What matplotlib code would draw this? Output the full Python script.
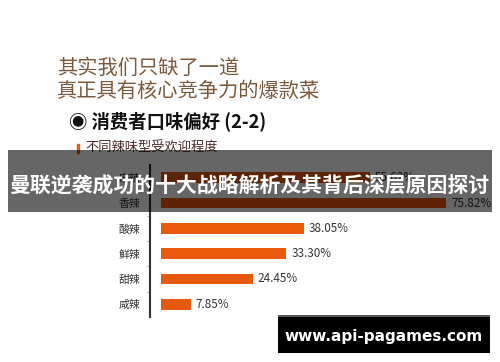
import matplotlib
matplotlib.use('Agg')
import matplotlib.pyplot as plt
from matplotlib.patches import Rectangle

# ---- data ----
categories = ['麻辣', '香辣', '酸辣', '鲜辣', '甜辣', '咸辣']
values = [55.62, 75.82, 38.05, 33.30, 24.45, 7.85]
value_labels = ['55.62%', '75.82%', '38.05%', '33.30%', '24.45%', '7.85%']

title_line1 = '其实我们只缺了一道'
title_line2 = '真正具有核心竞争力的爆款菜'
section_title = '◉ 消费者口味偏好 (2-2)'
sub_title = '不同辣味型受欢迎程度'
banner_text = '曼联逆袭成功的十大战略解析及其背后深层原因探讨'
watermark = 'www.api-pagames.com'

CJK = ['Noto Sans CJK SC', 'DejaVu Sans']
plt.rcParams['font.family'] = CJK

W, H = 500, 362
fig = plt.figure(figsize=(W / 100, H / 100), dpi=100)
fig.patch.set_facecolor('white')

def fx(x):
    return x / W

def fy(y):
    return 1 - y / H

# ---- bar chart ----
px_per_unit = 3.76
ax = fig.add_axes([fx(150), fy(317), 350 / W, 152 / H])
ypos = list(range(len(categories)))
ax.barh(ypos, values, height=0.43, color='#E8590C', left=0, zorder=2)
ax.set_xlim(-11 / px_per_unit, 339 / px_per_unit)
ax.set_ylim(len(categories) - 0.5, -0.5)
for s in ['top', 'right', 'bottom']:
    ax.spines[s].set_visible(False)
ax.spines['left'].set_color('#333333')
ax.spines['left'].set_linewidth(1.5)
ax.set_xticks([])
ax.set_yticks(ypos)
ax.set_yticklabels(categories, fontsize=7.8, color='#333333')
ax.tick_params(axis='y', which='major', length=0, pad=7)
ax.set_yticks([i + 0.5 for i in ypos[:-1]], minor=True)
ax.tick_params(axis='y', which='minor', length=2, color='#aaaaaa', width=0.8)
ax.set_facecolor('none')
for i, (v, lab) in enumerate(zip(values, value_labels)):
    ax.text(v + 5 / px_per_unit, i, lab, va='center', ha='left',
            fontsize=8.4, color='#333333')

# ---- headings ----
brown = '#7A5A3C'
fig.text(fx(57), fy(68), title_line1, fontsize=14.6, color=brown,
         ha='left', va='center')
fig.text(fx(57), fy(91), title_line2, fontsize=14.6, color=brown,
         ha='left', va='center')
fig.text(fx(69), fy(121), section_title, fontsize=13.2, color='#111111',
         fontweight='bold', ha='left', va='center')
fig.patches.append(Rectangle((fx(77), fy(153)), 2 / W, 9 / H,
                             transform=fig.transFigure, color='#E8590C',
                             zorder=3))
fig.text(fx(85), fy(148), sub_title, fontsize=9.5, color='#4A2A2A',
         ha='left', va='center')

# ---- banner overlay ----
fig.patches.append(Rectangle((fx(8), fy(212)), 484 / W, 62 / H,
                             transform=fig.transFigure, facecolor='black',
                             alpha=0.6, edgecolor='none', zorder=10))
fig.text(fx(249), fy(185), banner_text, fontsize=15, color='white',
         fontweight='bold', ha='center', va='center', zorder=11)

# ---- watermark box ----
fig.patches.append(Rectangle((fx(278), fy(353)), 212 / W, 38 / H,
                             transform=fig.transFigure, facecolor='black',
                             edgecolor='none', zorder=10))
fig.patches.append(Rectangle((fx(278), fy(317)), 212 / W, 2 / H,
                             transform=fig.transFigure, facecolor='#555555',
                             edgecolor='none', zorder=11))
fig.text(fx(384), fy(336), watermark, fontsize=11, color='white',
         fontweight='bold', ha='center', va='center', zorder=12,
         family='DejaVu Sans')

fig.savefig('out.png', dpi=100)
